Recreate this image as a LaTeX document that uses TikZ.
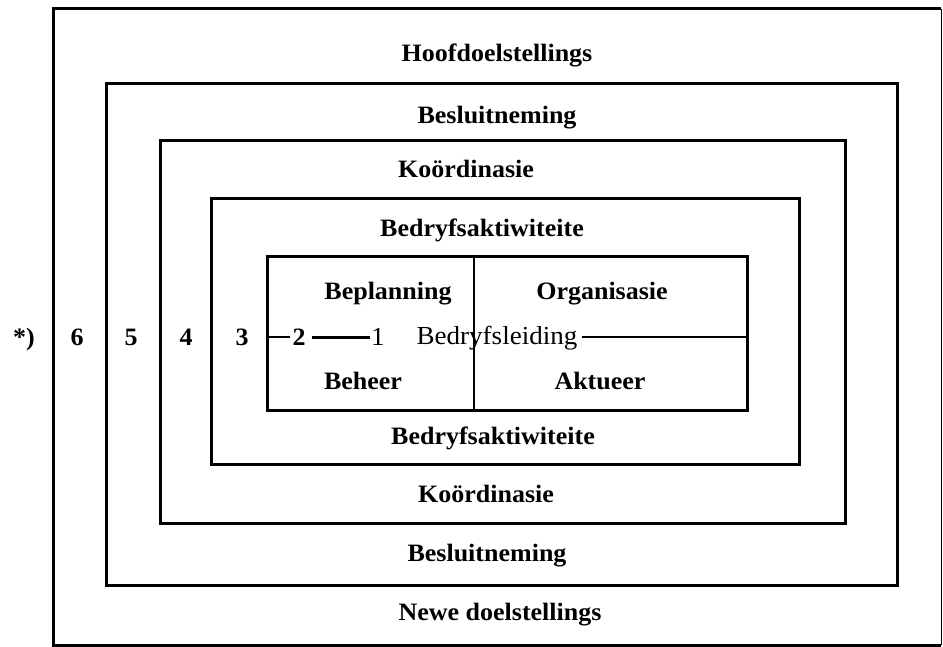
\documentclass[tikz,border=0pt]{standalone}
\usepackage{fontspec}
\setmainfont{Liberation Serif}[FakeStretch=1.04]
\begin{document}
\begin{tikzpicture}[x=1pt,y=-1pt,
  frame/.style={line width=3pt,line join=miter},
  lbl/.style={font=\fontsize{25}{27}\selectfont\bfseries,anchor=base,inner sep=0pt},
  lblr/.style={font=\fontsize{26}{28}\selectfont,anchor=base,inner sep=0pt},
  num/.style={font=\fontsize{25}{27}\selectfont\bfseries,anchor=base,inner sep=0pt},
  rule/.style={line width=2.5pt}]
\useasboundingbox (0,0) rectangle (943,647);
% frames
\draw[frame] (941,9) -- (53,9) -- (53,645) -- (941,645);
\draw[line width=1pt] (941,9) -- (941,645);
\draw[frame] (106,84) rectangle (897,585);
\draw[frame] (160,141) rectangle (845,523);
\draw[frame] (211,199) rectangle (799,464);
\draw[frame] (267,257) rectangle (747,410);
\draw[rule] (474,257) -- (474,410);
% labels
\node[lbl] (hoof) at (497,62) {Hoofdoelstellings};
\node[lbl] (bes1) at (497,124) {Besluitneming};
\node[lbl] (koo1) at (466,178) {Koördinasie};
\node[lbl] (bed1) at (482,237) {Bedryfsaktiwiteite};
\node[lbl] (bepl) at (388,299) {Beplanning};
\node[lbl] (orga) at (602,299) {Organisasie};
\node[lbl] (behe) at (363,389) {Beheer};
\node[lbl] (aktu) at (600,389) {Aktueer};
\node[lbl] (bed2) at (493,444) {Bedryfsaktiwiteite};
\node[lbl] (koo2) at (486,502) {Koördinasie};
\node[lbl] (bes2) at (487,561) {Besluitneming};
\node[lbl] (newe) at (500,620) {Newe doelstellings};
% row
\node[num] (star) at (24,345) {*)};
\node[num] (n6) at (77,345) {6};
\node[num] (n5) at (131,345) {5};
\node[num] (n4) at (186,345) {4};
\node[num] (n3) at (242,345) {3};
\node[num] (n2) at (299,345) {2};
\node[lblr] (n1) at (378,345) {1};
\node[lblr] (leid) at (497,344) {Bedryfsleiding};
\coordinate (lft) at (267,337);
\coordinate (rgt) at (747,337);
\draw[rule] (lft) -- ([xshift=-2pt]n2.west |- lft);
\draw[line width=3pt] ([xshift=6pt]n2.east |- lft) -- ([xshift=-1pt]n1.west |- lft);
\draw[rule] ([xshift=4pt]leid.east |- rgt) -- (rgt);
\end{tikzpicture}
\end{document}
